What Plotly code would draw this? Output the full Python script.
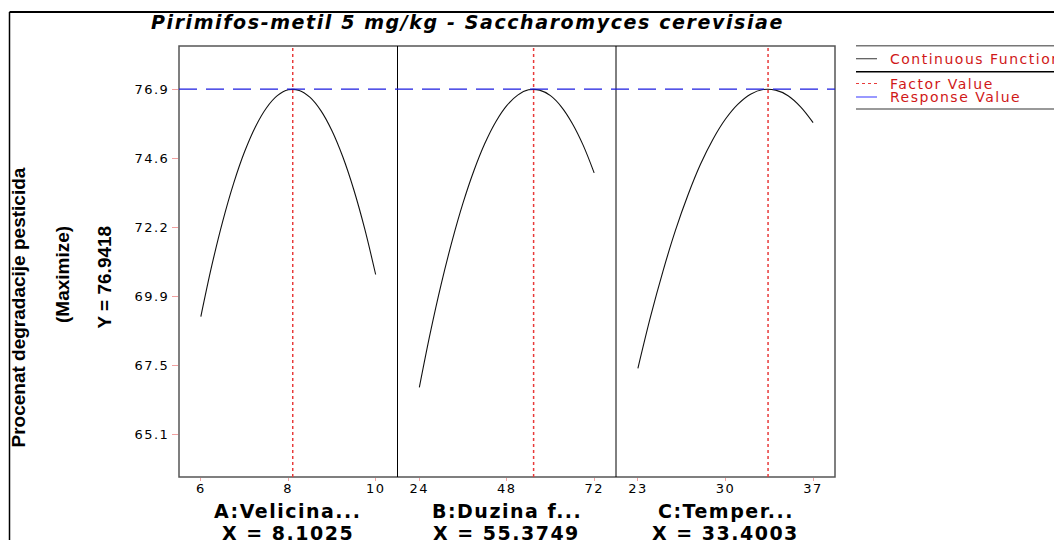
import plotly.graph_objects as go

# ---- data -------------------------------------------------------------
factor_names = ["A:Velicina...", "B:Duzina f...", "C:Temper..."]
factor_values = [8.1025, 55.3749, 33.4003]
response_value = 76.9418

a_x = [6.0, 6.25, 6.5, 6.75, 7.0, 7.25, 7.5, 7.75, 8.0, 8.25, 8.5, 8.75, 9.0, 9.25, 9.5, 9.75, 10.0]
a_y = [69.16, 70.90, 72.42, 73.72, 74.80, 75.66, 76.30, 76.72, 76.92, 76.90, 76.66, 76.20,
       75.52, 74.62, 73.50, 72.16, 70.60]

b_x = [24, 27, 30, 33, 36, 39, 42, 45, 48, 51, 54, 57, 60, 63, 66, 69, 72]
b_y = [66.74, 68.60, 70.27, 71.75, 73.05, 74.16, 75.09, 75.83, 76.38, 76.74, 76.92, 76.91,
       76.72, 76.34, 75.77, 75.02, 74.08]

c_x = [23, 24, 25, 26, 27, 28, 29, 30, 31, 32, 33, 34, 35, 36, 37]
c_y = [67.39, 69.14, 70.71, 72.11, 73.32, 74.37, 75.23, 75.92, 76.43, 76.77, 76.93, 76.91,
       76.72, 76.34, 75.80]

x_ranges = [[5.5, 10.5], [18, 78], [21.25, 38.75]]
x_tickvals = [[6, 8, 10], [24, 48, 72], [23, 30, 37]]

y_range = [63.67, 78.42]
y_tickvals = [65.1293, 67.4918, 69.8543, 72.2168, 74.5793, 76.9418]
y_ticktext = ["65.1", "67.5", "69.9", "72.2", "74.6", "76.9"]

title_text = "Pirimifos-metil 5 mg/kg - Saccharomyces cerevisiae"
y_title = "Procenat degradacije pesticida"
y_goal = "(Maximize)"
y_value_text = "Y = 76.9418"
legend_items = ["Continuous Function", "Factor Value", "Response Value"]

# ---- layout geometry ----------------------------------------------------
W, H = 1054, 540
L, R, T, B = 179, 219, 46, 63
PW, PH = W - L - R, H - T - B


def px(xp):
    return (xp - L) / PW


def py(yp):
    return (H - B - yp) / PH


def spaced(text, sp):
    return f'<span style="letter-spacing:{sp}px">{text}</span>'


d1, d2 = px(397.5), px(616)
domains = [[0, d1], [d1, d2], [d2, 1]]

WIDE = "DejaVu Sans"
ARIAL = "Liberation Sans, Arial"
PINK = "#f2a0a0"
RED_TXT = "#d01818"

fig = go.Figure()

curves = [(a_x, a_y), (b_x, b_y), (c_x, c_y)]
axis_ids = ["x", "x2", "x3"]
for (cx, cy), ax in zip(curves, axis_ids):
    fig.add_trace(go.Scatter(
        x=cx, y=cy, mode="lines", xaxis=ax, yaxis="y",
        line=dict(color="#111111", width=1.1, shape="spline", smoothing=1.0),
        showlegend=False, hoverinfo="skip",
    ))

layout_axes = {}
for i, ax in enumerate(axis_ids):
    key = "xaxis" if i == 0 else f"xaxis{i + 1}"
    layout_axes[key] = dict(
        domain=domains[i], range=x_ranges[i], anchor="y",
        tickvals=x_tickvals[i],
        ticktext=[spaced(str(v), 1.5) for v in x_tickvals[i]],
        ticks="outside", ticklen=3, tickcolor=PINK, tickwidth=1,
        ticklabelstandoff=-4,
        showgrid=False, zeroline=False, showline=False,
        tickfont=dict(family=WIDE, size=13, color="#000"),
    )

fig.update_layout(
    width=W, height=H, autosize=False,
    margin=dict(l=L, r=R, t=T, b=B, pad=0),
    paper_bgcolor="white", plot_bgcolor="white",
    showlegend=False,
    yaxis=dict(
        domain=[0, 1], range=y_range, anchor="x",
        tickvals=y_tickvals,
        ticktext=[spaced(t, 1.5) for t in y_ticktext],
        ticks="outside", ticklen=6, tickcolor=PINK, tickwidth=1,
        showgrid=False, zeroline=False, showline=False,
        tickfont=dict(family=WIDE, size=13, color="#000"),
    ),
    **layout_axes,
)

shapes = []
# panel frame and separators
shapes.append(dict(type="rect", xref="paper", yref="paper", x0=0, x1=1, y0=0, y1=1,
                   line=dict(color="#555555", width=1.5)))
for d in (d1, d2):
    shapes.append(dict(type="line", xref="paper", yref="paper", x0=d, x1=d, y0=0, y1=1,
                       line=dict(color="#000000", width=1)))
# response value line across all panels
shapes.append(dict(type="line", xref="paper", yref="y", x0=0, x1=1,
                   y0=response_value, y1=response_value,
                   line=dict(color="#1c1ce0", width=1.3, dash="18px,9px")))
# factor value lines
for ax, v in zip(axis_ids, factor_values):
    shapes.append(dict(type="line", xref=ax, yref="paper", x0=v, x1=v, y0=0, y1=1,
                       line=dict(color="#e83a3a", width=1.5, dash="dot")))
# outer page frame
shapes.append(dict(type="line", xref="paper", yref="paper",
                   x0=px(9.5), x1=px(1070), y0=py(12), y1=py(12),
                   line=dict(color="#000000", width=2)))
shapes.append(dict(type="line", xref="paper", yref="paper",
                   x0=px(9.5), x1=px(9.5), y0=py(12), y1=py(560),
                   line=dict(color="#000000", width=1.5)))
# legend box rules and samples
for yy, col in ((45.7, "#777777"), (71.7, "#000000"), (109, "#777777")):
    shapes.append(dict(type="line", xref="paper", yref="paper",
                       x0=px(856), x1=px(1070), y0=py(yy), y1=py(yy),
                       line=dict(color=col, width=1.5)))
shapes.append(dict(type="line", xref="paper", yref="paper",
                   x0=px(856), x1=px(877), y0=py(58.7), y1=py(58.7),
                   line=dict(color="#555555", width=1.2)))
shapes.append(dict(type="line", xref="paper", yref="paper",
                   x0=px(856), x1=px(877), y0=py(83.5), y1=py(83.5),
                   line=dict(color="#e83a3a", width=1.2, dash="dot")))
shapes.append(dict(type="line", xref="paper", yref="paper",
                   x0=px(856), x1=px(877), y0=py(97), y1=py(97),
                   line=dict(color="#7777ff", width=1.5)))
fig.update_layout(shapes=shapes)

ann = []
# title
ann.append(dict(xref="paper", yref="paper", x=px(467.5), y=py(22), xanchor="center",
                yanchor="middle", showarrow=False,
                text="<b><i>" + spaced(title_text, 1.6) + "</i></b>",
                font=dict(family=WIDE, size=19, color="#000")))
# rotated y titles
for txt, xc, yc in ((y_title, 17.5, 308), (y_goal, 62, 275), (y_value_text, 103.5, 277)):
    ann.append(dict(xref="paper", yref="paper", x=px(xc), y=py(yc), xanchor="center",
                    yanchor="middle", showarrow=False, textangle=-90,
                    text=f"<b>{txt}</b>", font=dict(family=ARIAL, size=19, color="#000")))
# factor titles and values
for i, (name, val) in enumerate(zip(factor_names, factor_values)):
    xc = (domains[i][0] + domains[i][1]) / 2
    ann.append(dict(xref="paper", yref="paper", x=xc, y=py(511), xanchor="center",
                    yanchor="middle", showarrow=False,
                    text="<b>" + spaced(name, 1.5) + "</b>",
                    font=dict(family=WIDE, size=19, color="#000")))
    ann.append(dict(xref="paper", yref="paper", x=xc, y=py(533), xanchor="center",
                    yanchor="middle", showarrow=False,
                    text="<b>" + spaced(f"X = {val:.4f}", 1.5) + "</b>",
                    font=dict(family=WIDE, size=19, color="#000")))
# legend texts
for txt, yc in zip(legend_items, (58.5, 84, 97)):
    ann.append(dict(xref="paper", yref="paper", x=px(888), y=py(yc), xanchor="left",
                    yanchor="middle", showarrow=False,
                    text=spaced(txt, 1.5),
                    font=dict(family=WIDE, size=14, color=RED_TXT)))
fig.update_layout(annotations=ann)

fig.write_html("out.html")
